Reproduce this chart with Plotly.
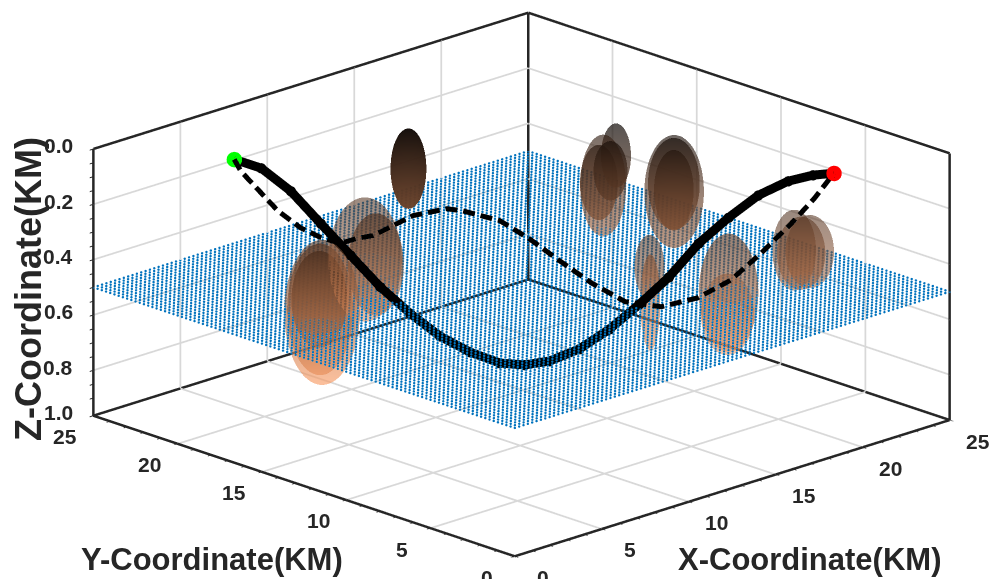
import numpy as np
import plotly.graph_objects as go

# ---- data ----
x_ticks = [0, 5, 10, 15, 20, 25]
y_ticks = [0, 5, 10, 15, 20, 25]
z_ticks = [0.0, 0.2, 0.4, 0.6, 0.8, 0.964]
z_tick_labels = ["0.0", "0.2", "0.4", "0.6", "0.8", "1.0"]
z_minor = [0.05, 0.1, 0.15, 0.25, 0.3, 0.35, 0.45, 0.5, 0.55, 0.65, 0.7, 0.75, 0.85, 0.9]
x_minor = [v for v in range(26) if v % 5]
Z_BOTTOM = 0.964
DEPTH_SCALE = 0.957
PLANE_DEPTH = 0.5
plane_x = [i * 0.25 for i in range(101)]
plane_y = [i * 0.25 for i in range(101)]

solid_x = [3.25, 4.0, 4.81, 5.64, 6.46, 7.28, 8.11, 8.93, 9.75, 10.58, 11.26, 11.95, 12.77, 13.6, 14.42, 15.24, 16.07, 16.89, 17.71, 18.54, 19.22, 19.8]
solid_y = [20, 19.17, 18.25, 17.33, 16.41, 15.49, 14.57, 13.65, 12.73, 11.81, 11.04, 10.27, 9.35, 8.43, 7.51, 6.59, 5.67, 4.75, 3.83, 2.91, 2.14, 1.5]
solid_z = [0, 0.031, 0.115, 0.235, 0.352, 0.469, 0.567, 0.65, 0.707, 0.746, 0.751, 0.734, 0.686, 0.609, 0.513, 0.407, 0.277, 0.177, 0.09, 0.034, 0.009, 0]

dash_x = [3.25, 3.33, 4.0, 4.48, 4.95, 5.44, 5.96, 6.43, 7.72, 8.72, 9.14, 10.08, 10.74, 11.37, 12.08, 12.85, 13.8, 14.9, 15.98, 17.06, 18.15, 19.04, 19.8]
dash_y = [20, 19.68, 18.19, 17.34, 16.64, 15.98, 15.51, 15.05, 14.0, 13.03, 12.53, 11.3, 10.23, 9.12, 7.91, 6.71, 5.56, 4.52, 3.67, 3.0, 2.34, 1.86, 1.5]
dash_z = [0, 0.04, 0.171, 0.227, 0.258, 0.277, 0.259, 0.248, 0.177, 0.151, 0.157, 0.187, 0.246, 0.317, 0.392, 0.453, 0.467, 0.434, 0.371, 0.278, 0.175, 0.086, 0]

blob_x = [12.3, 5.2, 4.7, 3.2, 10.0, 8.0, 18.9, 20.1, 18.6, 18.1, 20.5, 20.0, 19.9, 15.4, 17.0, 18.3, 19.4, 21.2, 22.0, 21.6]
blob_y = [19.0, 16.8, 16.4, 14.9, 19.2, 16.5, 13.5, 15.5, 14.2, 13.0, 11.7, 11.2, 11.1, 7.9, 9.5, 6.2, 7.4, 5.3, 5.2, 5.3]
blob_z = [0.2, 0.55, 0.52, 0.42, 0.5, 0.42, 0.17, 0.35, 0.28, 0.2, 0.3, 0.25, 0.27, 0.4, 0.6, 0.52, 0.65, 0.4, 0.42, 0.42]
blob_r = [0.74, 1.56, 1.36, 1.15, 1.52, 1.15, 0.62, 0.95, 0.78, 0.7, 1.23, 1.07, 0.82, 0.62, 0.41, 1.23, 1.1, 0.9, 1.0, 1.0]
blob_h = [0.15, 0.27, 0.245, 0.18, 0.23, 0.19, 0.12, 0.19, 0.14, 0.11, 0.21, 0.17, 0.15, 0.12, 0.18, 0.22, 0.15, 0.15, 0.135, 0.135]
blob_a = [0.85, 0.4, 0.45, 0.55, 0.35, 0.4, 0.45, 0.4, 0.45, 0.45, 0.4, 0.45, 0.45, 0.35, 0.4, 0.4, 0.35, 0.35, 0.35, 0.35]

start_point = [3.25, 20, 0]
end_point = [19.8, 1.5, 0]

INK = "#262626"
GRID = "#d8d8d8"
BLUE = "#0072BD"
copper = [[0, "rgb(0,0,0)"], [0.8, "rgb(255,159,102)"], [1, "rgb(255,199,127)"]]

fig = go.Figure()


def segments(trace_segments, color, width):
    xs, ys, zs = [], [], []
    for a, b in trace_segments:
        xs += [a[0], b[0], None]
        ys += [a[1], b[1], None]
        zs += [a[2], b[2], None]
    fig.add_trace(go.Scatter3d(x=xs, y=ys, z=zs, mode="lines",
                               line=dict(color=color, width=width),
                               hoverinfo="skip", showlegend=False))


def dashed(xs, ys, zs, on=12.0, off=6.0):
    """Stroke pattern: cut a read polyline into dashes of roughly on/off screen pixels."""
    xs, ys, zs = map(np.asarray, (xs, ys, zs))
    sx = 17.48 * xs - 16.92 * ys
    sy = -5.48 * xs - 5.64 * ys + 280 * zs
    s = np.concatenate([[0], np.cumsum(np.hypot(np.diff(sx), np.diff(sy)))])
    ox, oy, oz = [], [], []
    pos = 0.0
    while pos < s[-1]:
        end = min(pos + on, s[-1])
        inner = [v for v in s if pos < v < end]
        for q in [pos] + inner + [end]:
            ox.append(float(np.interp(q, s, xs)))
            oy.append(float(np.interp(q, s, ys)))
            oz.append(float(np.interp(q, s, zs)))
        ox.append(None); oy.append(None); oz.append(None)
        pos = end + off
    return ox, oy, oz


grid = []
for v in x_ticks[1:-1]:
    grid.append(((v, 0, Z_BOTTOM), (v, 25, Z_BOTTOM)))
    grid.append(((v, 25, 0), (v, 25, Z_BOTTOM)))
for v in y_ticks[1:-1]:
    grid.append(((0, v, Z_BOTTOM), (25, v, Z_BOTTOM)))
    grid.append(((25, v, 0), (25, v, Z_BOTTOM)))
for v in z_ticks[1:-1]:
    grid.append(((0, 25, v), (25, 25, v)))
    grid.append(((25, 0, v), (25, 25, v)))
segments(grid, GRID, 3.5)

b = Z_BOTTOM
box = [((0, 25, 0), (25, 25, 0)), ((25, 25, 0), (25, 0, 0)),
       ((25, 25, 0), (25, 25, b)), ((0, 25, 0), (0, 25, b)), ((25, 0, 0), (25, 0, b)),
       ((0, 25, b), (25, 25, b)), ((25, 25, b), (25, 0, b)),
       ((0, 25, b), (0, 0, b)), ((0, 0, b), (25, 0, b))]
segments(box, INK, 5)

px, py = np.meshgrid(plane_x, plane_y)
fig.add_trace(go.Scatter3d(x=px.ravel(), y=py.ravel(), z=np.full(px.size, PLANE_DEPTH),
                           mode="markers", marker=dict(size=1.4, color=BLUE, line=dict(width=0)),
                           hoverinfo="skip", showlegend=False))

th = np.linspace(0, np.pi, 36)
ph = np.linspace(0, 2 * np.pi, 48)
TH, PH = np.meshgrid(th, ph)
for cx, cy, cz, r, h, a in zip(blob_x, blob_y, blob_z, blob_r, blob_h, blob_a):
    Z = (cz - h * np.cos(TH)) * DEPTH_SCALE
    fig.add_trace(go.Surface(x=cx + r * np.sin(TH) * np.cos(PH),
                             y=cy + r * np.sin(TH) * np.sin(PH),
                             z=Z, surfacecolor=Z, cmin=0, cmax=1, colorscale=copper,
                             showscale=False, opacity=a, hoverinfo="skip",
                             lighting=dict(ambient=1, diffuse=0, specular=0, roughness=1, fresnel=0)))

dx, dy, dz = dashed(dash_x, dash_y, [v * DEPTH_SCALE for v in dash_z])
fig.add_trace(go.Scatter3d(x=dx, y=dy, z=dz, mode="lines",
                           line=dict(color="black", width=10),
                           hoverinfo="skip", showlegend=False))
fig.add_trace(go.Scatter3d(x=solid_x, y=solid_y, z=[v * DEPTH_SCALE for v in solid_z], mode="lines+markers",
                           line=dict(color="black", width=18),
                           marker=dict(size=6, color="black"),
                           hoverinfo="skip", showlegend=False))
fig.add_trace(go.Scatter3d(x=[start_point[0]], y=[start_point[1]], z=[start_point[2]], mode="markers",
                           marker=dict(size=9, color="#00ff00"), hoverinfo="skip", showlegend=False))
fig.add_trace(go.Scatter3d(x=[end_point[0]], y=[end_point[1]], z=[end_point[2]], mode="markers",
                           marker=dict(size=9, color="#ff0000"), hoverinfo="skip", showlegend=False))

TICK_FONT = dict(family="Liberation Sans", size=21, color=INK)
notes = []
for v in x_ticks:
    notes.append(dict(x=v, y=0, z=Z_BOTTOM, text="<b>%d</b>" % v, showarrow=False, xshift=28, yshift=-21, font=TICK_FONT))
for v in y_ticks:
    notes.append(dict(x=0, y=v, z=Z_BOTTOM, text="<b>%d</b>" % v, showarrow=False, xshift=-28, yshift=-21, font=TICK_FONT))
for v, t in zip(z_ticks, z_tick_labels):
    notes.append(dict(x=0, y=25, z=v, text="<b>%s</b>" % t, showarrow=False, xshift=-35, yshift=3, font=TICK_FONT))


def axis(rng, vals):
    return dict(range=rng, autorange=False, tickmode="array", tickvals=vals, ticktext=[""] * len(vals),
                showticklabels=False, ticks="outside", ticklen=5, tickcolor=INK, tickwidth=2,
                showgrid=False, zeroline=False, showline=False, showbackground=False,
                showspikes=False, title=dict(text=""))


d = 1.6
S = 2.19
fig.update_layout(
    width=997, height=579, margin=dict(l=0, r=0, t=0, b=0),
    paper_bgcolor="white", showlegend=False,
    scene=dict(
        domain=dict(x=[0.03, 1], y=[0.045, 1]),
        aspectmode="manual", aspectratio=dict(x=S, y=S, z=0.4655 * S),
        camera=dict(projection=dict(type="orthographic"),
                    up=dict(x=0, y=0, z=1), center=dict(x=0, y=0, z=0),
                    eye=dict(x=-0.658 * d, y=-0.679 * d, z=0.323 * d)),
        xaxis=axis([0, 25], x_minor + x_ticks),
        yaxis=axis([0, 25], x_minor + y_ticks),
        zaxis=axis([Z_BOTTOM, 0], z_minor + z_ticks),
        annotations=notes,
    ),
    annotations=[
        dict(xref="paper", yref="paper", x=801 / 997, y=1 - 551 / 579, text="<b>X-Coordinate(KM)</b>",
             xanchor="center", yanchor="middle", showarrow=False,
             font=dict(family="Liberation Sans", size=31, color=INK)),
        dict(xref="paper", yref="paper", x=204 / 997, y=1 - 551 / 579, text="<b>Y-Coordinate(KM)</b>",
             xanchor="center", yanchor="middle", showarrow=False,
             font=dict(family="Liberation Sans", size=31, color=INK)),
        dict(xref="paper", yref="paper", x=20 / 997, y=1 - 281 / 579, text="<b>Z-Coordinate(KM)</b>", textangle=-90,
             xanchor="center", yanchor="middle", showarrow=False,
             font=dict(family="Liberation Sans", size=36, color=INK)),
    ],
)

fig.write_html("out.html")
